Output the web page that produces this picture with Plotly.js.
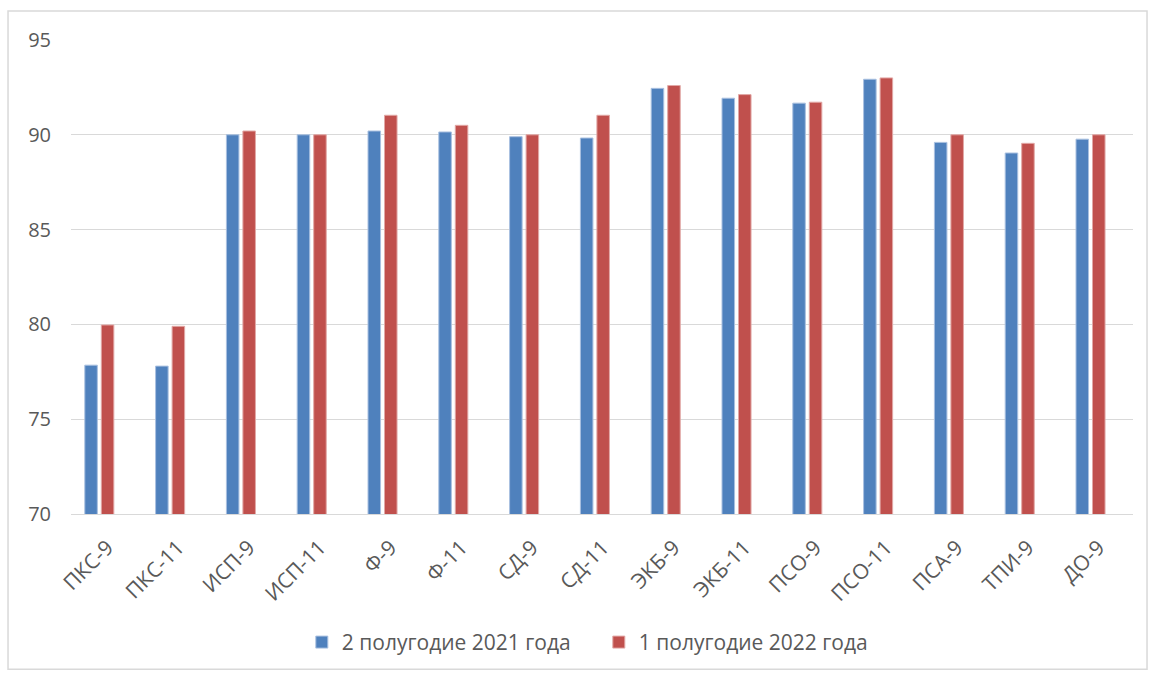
<!DOCTYPE html>
<html>
<head>
<meta charset="utf-8">
<script src="https://cdn.plot.ly/plotly-3.0.1.min.js"></script>
<style>html,body{margin:0;padding:0;background:#fff;}#chart{width:1151px;height:675px;}</style>
</head>
<body>
<div id="chart"></div>
<script>
const categories = ["ПКС-9","ПКС-11","ИСП-9","ИСП-11","Ф-9","Ф-11","СД-9","СД-11","ЭКБ-9","ЭКБ-11","ПСО-9","ПСО-11","ПСА-9","ТПИ-9","ДО-9"];
const series1Name = "2 полугодие 2021 года";
const series2Name = "1 полугодие 2022 года";
const series1 = [77.85, 77.8, 90.0, 90.0, 90.2, 90.15, 89.9, 89.83, 92.45, 91.93, 91.67, 92.93, 89.6, 89.04, 89.77];
const series2 = [79.97, 79.9, 90.2, 90.0, 91.03, 90.5, 90.0, 91.03, 92.6, 92.12, 91.72, 93.0, 90.0, 89.55, 90.0];
const yTicks = [70, 75, 80, 85, 90, 95];

const textColor = "#595959";
const fontFam = "'Open Sans', 'Noto Sans', sans-serif";

const data = [
  {type: "bar", name: series1Name, x: categories, y: series1,
   marker: {color: "#4f81bd", line: {color: "#a9c0e0", width: 1}}},
  {type: "bar", name: series2Name, x: categories, y: series2,
   marker: {color: "#c0504d", line: {color: "#e2a8a6", width: 1}}}
];

const layout = {
  width: 1151, height: 675,
  margin: {l: 71, r: 18, t: 40, b: 159},
  paper_bgcolor: "#fff", plot_bgcolor: "#fff",
  barmode: "group", bargap: 0.534, bargroupgap: 0.24,
  showlegend: true,
  legend: {orientation: "h", x: 0.497, xanchor: "center", y: -0.271, yanchor: "middle",
           font: {family: fontFam, size: 21, color: textColor}, itemclick: false, traceorder: "normal",
           entrywidth: 252, itemwidth: 30},
  xaxis: {type: "category", range: [-0.4, 14.6], showgrid: false, showline: true, linecolor: "#d9d9d9", linewidth: 1,
          ticks: "", tickangle: -45, ticklabelstandoff: 12, ticklabelshift: 8,
          tickfont: {family: fontFam, size: 21, color: textColor}, fixedrange: true},
  yaxis: {range: [70, 95], tickvals: yTicks, showgrid: true, gridcolor: "#d9d9d9", gridwidth: 1,
          zeroline: false, showline: false, ticks: "", ticklabelstandoff: 19,
          tickfont: {family: fontFam, size: 20, color: textColor}, fixedrange: true},
  shapes: [
    {type: "rect", xref: "paper", yref: "paper", x0: -0.0593, x1: 1.0132, y0: -0.3277, y1: 1.061,
     line: {color: "#d9d9d9", width: 1.5}, fillcolor: "rgba(0,0,0,0)", layer: "below"}
  ]
};

Plotly.newPlot("chart", data, layout, {displayModeBar: false, staticPlot: true});
</script>
</body>
</html>
